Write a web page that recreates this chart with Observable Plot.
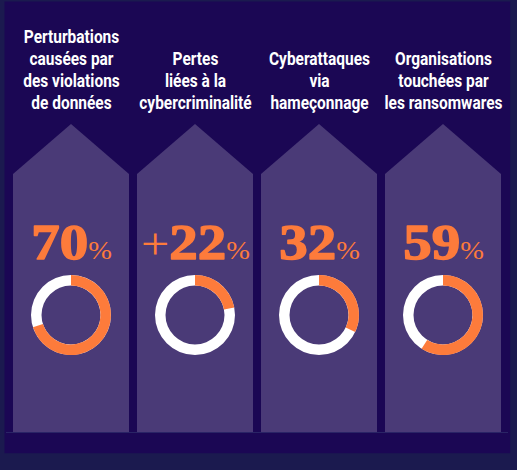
<!DOCTYPE html>
<html><head><meta charset="utf-8">
<script src="https://cdn.jsdelivr.net/npm/d3@7"></script>
<script src="https://cdn.jsdelivr.net/npm/@observablehq/plot@0.6"></script>
<style>html,body{margin:0;padding:0;background:#1b1a4f;overflow:hidden}</style>
</head><body><div id="chart"></div>
<script>
const categories = ["violations", "pertes", "phishing", "ransomware"];
const titles = [
  "Perturbations\ncausées par\ndes violations\nde données",
  "Pertes\nliées à la\ncybercriminalité",
  "Cyberattaques\nvia\nhameçonnage",
  "Organisations\ntouchées par\nles ransomwares"
];
const values = [70, 22, 32, 59];
const valueLabels = ["70%", "+22%", "32%", "59%"];

const data = categories.map((c, i) => ({cat: c, title: titles[i], value: values[i], label: valueLabels[i]}));

const ORANGE = "#fd7b3b", COL = "#4a3a77";

const columnsMark = (index, scales) => {
  const g = d3.create("svg:g");
  const {x, y} = scales;
  const bw = x.bandwidth();
  for (const d of data) {
    const x0 = x(d.cat);
    g.append("path")
      .attr("fill", COL)
      .attr("d", `M${x0},${y(432)}L${x0},${y(174)}L${x0 + bw / 2},${y(124)}L${x0 + bw},${y(174)}L${x0 + bw},${y(432)}Z`);
  }
  return g.node();
};

const donutMark = (index, scales) => {
  const g = d3.create("svg:g");
  const {x, y} = scales;
  const bw = x.bandwidth();
  const arc = d3.arc().innerRadius(29.5).outerRadius(40);
  for (const d of data) {
    const cx = x(d.cat) + bw / 2, cy = y(315);
    const gg = g.append("g").attr("transform", `translate(${cx},${cy})`);
    gg.append("path").attr("fill", "#ffffff").attr("d", arc({startAngle: 0, endAngle: 2 * Math.PI}));
    gg.append("path").attr("fill", ORANGE).attr("d", arc({startAngle: 0, endAngle: d.value / 100 * 2 * Math.PI}));
  }
  return g.node();
};

const chart = Plot.plot({
  width: 517,
  height: 470,
  margin: 0,
  style: {background: "#1b1a4f", overflow: "visible"},
  x: {type: "band", domain: categories, range: [12.3, 501.3], paddingInner: 0.065, paddingOuter: 0, axis: null},
  y: {type: "linear", domain: [0, 470], range: [0, 470], axis: null},
  marks: [
    Plot.frame({fill: "#1b0754", stroke: null, insetLeft: 4, insetRight: 7.3, insetTop: 1, insetBottom: 17.3}),
    columnsMark,
    Plot.ruleY([432], {stroke: "#2a2466", strokeWidth: 1, insetLeft: 6, insetRight: 9}),
    Plot.text(data, {
      x: "cat", y: () => 108.5, text: "title",
      lineAnchor: "bottom", lineHeight: 22 / 18,
      fill: "#ffffff", fontSize: 18, fontWeight: "bold",
      fontFamily: "Roboto, sans-serif"
    }),
    Plot.text(data, {
      x: "cat", y: () => 258, text: "label",
      lineAnchor: "bottom", fill: ORANGE, fontSize: 50,
      fontFamily: "'Liberation Serif', serif"
    }),
    donutMark
  ]
});

d3.select(chart).selectAll("text").each(function() {
  const sel = d3.select(this);
  const t = this.textContent;
  const tr = sel.attr("transform") || "";
  if (!/%$/.test(t)) {
    sel.attr("transform", tr + " scale(0.86,1)");
    return;
  }
  sel.text(null);
  let num = t.slice(0, -1);
  if (num.startsWith("+")) {
    sel.append("tspan").attr("font-weight", 400).attr("font-size", 44).text("+");
    num = num.slice(1);
  }
  sel.append("tspan").attr("font-weight", 700).attr("font-size", 50)
    .attr("stroke", ORANGE).attr("stroke-width", 1.4).attr("stroke-linejoin", "round").text(num);
  sel.append("tspan").attr("font-weight", 400).attr("font-size", 25).text("%");
  sel.attr("transform", tr + " scale(1.14,1)");
});

document.getElementById("chart").appendChild(chart);
</script>
</body></html>
